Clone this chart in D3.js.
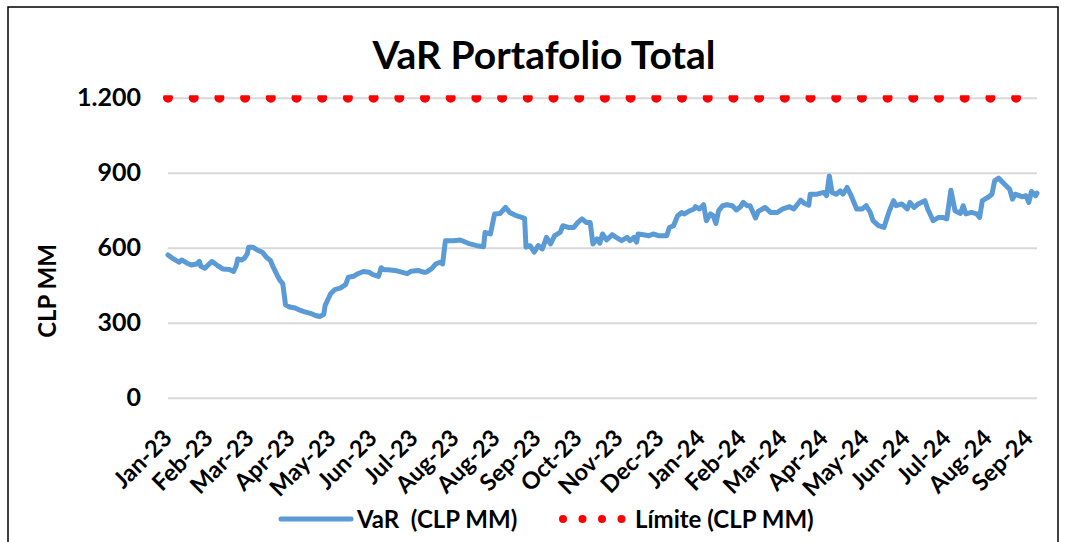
<!DOCTYPE html>
<html><head><meta charset="utf-8">
<script src="https://cdn.jsdelivr.net/npm/d3@7"></script>
<style>
body{margin:0;background:#fff;}
text{font-family:Lato,"Open Sans",sans-serif;}
</style>
</head><body>
<svg id="c" width="1065" height="542"></svg>
<script>
// ---- data ----
const chartTitle = "VaR Portafolio Total";
const yAxisTitle = "CLP MM";
const startDate = "2023-01-03";
const endDate = "2024-09-30";
const tickStepDays = 30;
const tickLabels = ["Jan-23","Feb-23","Mar-23","Apr-23","May-23","Jun-23","Jul-23","Aug-23","Aug-23","Sep-23","Oct-23","Nov-23","Dec-23","Jan-24","Feb-24","Mar-24","Apr-24","May-24","Jun-24","Jul-24","Aug-24","Sep-24"];
const yTicks = [0, 300, 600, 900, 1200];
const seriesNames = ["VaR  (CLP MM)", "Límite (CLP MM)"];
const limitValue = 1200;
// [days since startDate, VaR value]
const varSeries = [
[0,571],[4,555],[8,542],[10,551],[14,538],[17,531],[21,535],[23,545],[24,526],[27,518],
[29,529],[32,545],[34,538],[37,526],[40,515],[45,513],[48,505],[50,529],[51,555],[54,551],
[56,558],[58,575],[59,602],[62,602],[65,592],[69,582],[72,562],[75,549],[77,522],[80,489],
[82,469],[84,456],[86,372],[89,363],[93,359],[97,349],[100,343],[105,336],[108,329],[111,325],
[114,333],[115,369],[119,416],[122,432],[126,438],[130,452],[132,482],[136,486],[139,496],[143,505],
[147,502],[150,492],[154,485],[156,520],[158,512],[161,512],[166,509],[171,502],[175,496],[178,506],
[183,509],[187,502],[189,502],[193,516],[196,535],[199,542],[201,535],[203,628],[204,628],[209,628],
[214,631],[221,615],[226,608],[231,604],[232,661],[236,655],[239,735],[243,737],[247,761],[250,741],
[255,728],[261,717],[262,602],[265,608],[268,582],[271,608],[274,595],[277,641],[280,615],[283,648],
[287,661],[289,688],[293,681],[297,681],[300,701],[303,715],[306,701],[309,701],[311,615],[314,635],
[316,618],[318,655],[321,631],[325,652],[328,641],[332,628],[336,641],[338,628],[341,641],[343,622],
[344,655],[348,652],[352,648],[355,655],[359,648],[365,648],[367,681],[370,688],[373,728],[376,741],
[378,735],[382,748],[385,755],[386,764],[389,755],[392,772],[394,708],[397,735],[399,728],[401,697],
[403,748],[406,768],[409,772],[413,768],[416,751],[419,764],[421,781],[424,768],[426,768],[430,719],
[432,745],[437,761],[441,741],[446,741],[450,755],[455,764],[458,755],[463,790],[466,777],[469,770],
[470,814],[475,814],[480,821],[482,808],[484,887],[486,821],[489,814],[492,827],[494,814],[497,841],
[500,808],[504,755],[508,755],[511,768],[514,741],[516,708],[520,688],[524,681],[526,715],[528,748],
[531,788],[533,768],[537,775],[541,755],[543,781],[546,761],[549,775],[554,788],[556,755],[560,708],
[564,721],[567,721],[570,715],[573,830],[576,748],[580,737],[582,768],[584,735],[588,741],[592,735],
[594,721],[596,788],[600,801],[603,814],[605,867],[608,878],[611,861],[616,834],[618,794],[620,814],
[625,804],[628,808],[630,781],[632,825],[635,808],[636,818]
];

// ---- chart ----
const svg = d3.select("#c");
const parse = d3.utcParse("%Y-%m-%d");
const t0 = parse(startDate), t1 = parse(endDate);
const plot = {left:168, right:1037, top:97.7, bottom:397.7};

const x = d3.scaleUtc().domain([t0, t1]).range([plot.left, plot.right]);
const y = d3.scaleLinear().domain([0, 1200]).range([plot.bottom, plot.top]);
const esLocale = d3.formatLocale({decimal:",", thousands:".", grouping:[3], currency:["$",""]});
const fmt = esLocale.format(",");

// border
svg.append("rect").attr("x",8).attr("y",7).attr("width",1050).attr("height",560)
  .attr("fill","none").attr("stroke","#000").attr("stroke-width",1.5);

// title
svg.append("text").attr("x",544).attr("y",69).attr("text-anchor","middle")
  .attr("font-size",39).attr("font-weight","bold").attr("fill","#000").text(chartTitle);

// gridlines + y labels
const yAxis = d3.axisLeft(y).tickValues(yTicks).tickFormat(fmt)
  .tickSize(-(plot.right-plot.left)).tickPadding(27);
const gy = svg.append("g").attr("transform",`translate(${plot.left},0)`).call(yAxis);
gy.select(".domain").remove();
gy.selectAll(".tick line").attr("stroke","#d9d9d9").attr("stroke-width",2);
gy.selectAll(".tick text").attr("font-size",25).attr("font-weight","bold").attr("fill","#000")
  .style("font-family","Lato, sans-serif");

// y title
svg.append("text").attr("transform","translate(56,291) rotate(-90)").attr("text-anchor","middle")
  .attr("font-size",24).attr("font-weight","bold").attr("fill","#000").text(yAxisTitle);

// x axis labels
const tickDates = tickLabels.map((_, i) => d3.utcDay.offset(t0, i*tickStepDays));
const xAxis = d3.axisBottom(x).tickValues(tickDates).tickFormat((d,i)=>tickLabels[i]).tickSize(0);
const gx = svg.append("g").attr("transform",`translate(0,${plot.bottom})`).call(xAxis);
gx.select(".domain").remove();
gx.selectAll(".tick text").attr("font-size",23.5).attr("font-weight","bold").attr("fill","#000")
  .style("font-family","Lato, sans-serif")
  .attr("text-anchor","end").attr("dy",0).attr("y",0)
  .attr("transform","translate(5,42) rotate(-45)");

// clip
svg.append("clipPath").attr("id","clip").append("rect")
  .attr("x",plot.left-6).attr("y",plot.top-2.5).attr("width",plot.right-plot.left+6).attr("height",plot.bottom-plot.top+10);

// limit (dotted)
svg.append("path").datum([t0, t1])
  .attr("clip-path","url(#clip)")
  .attr("d", d3.line().x(d=>x(d)).y(()=>y(limitValue)))
  .attr("fill","none").attr("stroke","#ff0000").attr("stroke-width",10)
  .attr("stroke-linecap","round").attr("stroke-dasharray","0 25.7");

// VaR line
svg.append("path").datum(varSeries)
  .attr("d", d3.line().x(d=>x(d3.utcDay.offset(t0,d[0]))).y(d=>y(d[1])))
  .attr("fill","none").attr("stroke","#5b9bd5").attr("stroke-width",5)
  .attr("stroke-linejoin","round").attr("stroke-linecap","round");

// legend
const lg = svg.append("g");
lg.append("line").attr("x1",281).attr("x2",351).attr("y1",519).attr("y2",519)
  .attr("stroke","#5b9bd5").attr("stroke-width",5).attr("stroke-linecap","round");
lg.append("text").attr("x",357).attr("y",528).attr("font-size",24).attr("font-weight","bold")
  .attr("fill","#000").style("white-space","pre").text(seriesNames[0]);
lg.append("line").attr("x1",563).attr("x2",622).attr("y1",519).attr("y2",519)
  .attr("stroke","#ff0000").attr("stroke-width",8).attr("stroke-linecap","round")
  .attr("stroke-dasharray","0 19.5");
lg.append("text").attr("x",635).attr("y",528).attr("font-size",24).attr("font-weight","bold")
  .attr("fill","#000").text(seriesNames[1]);
</script>
</body></html>
